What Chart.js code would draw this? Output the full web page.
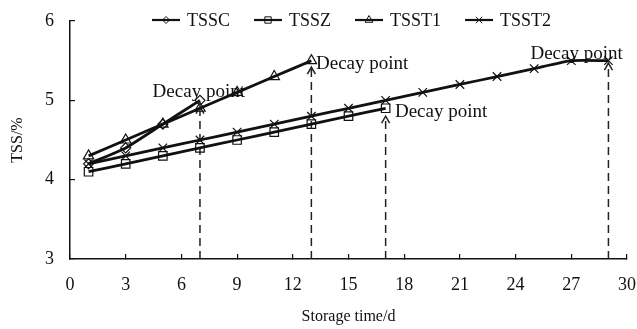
<!DOCTYPE html>
<html>
<head>
<meta charset="utf-8">
<script src="https://cdn.jsdelivr.net/npm/chart.js@4.4.0/dist/chart.umd.min.js"></script>
<style>
    html, body { margin: 0; padding: 0; background: #fff; }
    #wrap { width: 637px; height: 329px; }
</style>
</head>
<body>
<div id="wrap"><canvas id="tssChart"></canvas></div>
<script>
// TSS during storage

const seriesNames = ['TSSC', 'TSSZ', 'TSST1', 'TSST2'];
const storageDays = [1, 3, 5, 7, 9, 11, 13, 15, 17, 19, 21, 23, 25, 27, 29];
const tsscValues = [4.2, 4.4, 4.7, 5.0];
const tsszValues = [4.1, 4.2, 4.3, 4.4, 4.5, 4.6, 4.7, 4.8, 4.9];
const tsst1Values = [4.3, 4.5, 4.7, 4.9, 5.1, 5.3, 5.5];
const tsst2Values = [4.2, 4.3, 4.4, 4.5, 4.6, 4.7, 4.8, 4.9, 5.0, 5.1, 5.2, 5.3, 5.4, 5.5, 5.5];

// decay markers: day of the dashed arrow, where the arrow stops, where the label sits
const decayDays = [7, 13, 17, 29];
const decayArrowTips = [4.92, 5.42, 4.8, 5.47];
const decayLabelDays = [4.45, 13.25, 17.5, 24.8];
const decayLabelValues = [5.11, 5.46, 4.85, 5.59];
const decayLabel = 'Decay point';

const serif = '"Liberation Serif", "Times New Roman", serif';
const ink = '#111';

function toPoints(values) {
    return values.map((v, i) => ({ x: storageDays[i], y: v }));
}

const seriesStyles = [
    { values: tsscValues, pointStyle: 'rectRot', pointRadius: 5 },
    { values: tsszValues, pointStyle: 'rect', pointRadius: 6 },
    { values: tsst1Values, pointStyle: 'triangle', pointRadius: 6 },
    { values: tsst2Values, pointStyle: 'crossRot', pointRadius: 6 }
];

const datasets = seriesStyles.map((s, i) => ({
    label: seriesNames[i],
    data: toPoints(s.values),
    borderColor: ink,
    borderWidth: 2.8,
    backgroundColor: 'rgba(255,255,255,0)',
    pointStyle: s.pointStyle,
    pointRadius: s.pointRadius,
    pointBorderWidth: 1.2,
    pointBorderColor: ink,
    pointBackgroundColor: 'rgba(255,255,255,0)',
    tension: 0.15
}));

// dashed arrows under the lines
const decayArrows = {
    id: 'decayArrows',
    beforeDatasetsDraw(chart) {
        const { ctx, scales: { x, y } } = chart;
        ctx.save();
        ctx.strokeStyle = '#222';
        ctx.lineWidth = 1.5;
        decayDays.forEach((day, i) => {
            const px = x.getPixelForValue(day);
            const base = y.getPixelForValue(y.min);
            const tip = y.getPixelForValue(decayArrowTips[i]);
            ctx.setLineDash([8, 5]);
            ctx.beginPath();
            ctx.moveTo(px, base);
            ctx.lineTo(px, tip);
            ctx.stroke();
            ctx.setLineDash([]);
            ctx.beginPath();
            ctx.moveTo(px - 4, tip + 7);
            ctx.lineTo(px, tip);
            ctx.lineTo(px + 4, tip + 7);
            ctx.stroke();
        });
        ctx.restore();
    },
    afterDatasetsDraw(chart) {
        const { ctx, scales: { x, y } } = chart;
        ctx.save();
        ctx.fillStyle = ink;
        ctx.font = '19px ' + serif;
        ctx.textBaseline = 'middle';
        decayLabelDays.forEach((d, i) => {
            ctx.fillText(decayLabel, x.getPixelForValue(d), y.getPixelForValue(decayLabelValues[i]));
        });
        ctx.restore();
    }
};

// legend with line + marker, sitting over the top of the plot
const lineLegend = {
    id: 'lineLegend',
    afterDraw(chart) {
        const { ctx } = chart;
        const ly = 20;
        let cursor = 152;
        ctx.save();
        ctx.font = '18px ' + serif;
        ctx.textBaseline = 'middle';
        chart.data.datasets.forEach(ds => {
            ctx.strokeStyle = ink;
            ctx.lineWidth = 2.2;
            ctx.beginPath();
            ctx.moveTo(cursor, ly);
            ctx.lineTo(cursor + 28, ly);
            ctx.stroke();
            ctx.fillStyle = 'rgba(255,255,255,0)';
            ctx.lineWidth = 1;
            Chart.helpers.drawPoint(ctx, { pointStyle: ds.pointStyle, radius: ds.pointRadius - 1.5, borderWidth: 1 }, cursor + 14, ly);
            ctx.fillStyle = ink;
            ctx.fillText(ds.label, cursor + 35, ly + 1);
            cursor += 35 + ctx.measureText(ds.label).width + 24;
        });
        ctx.restore();
    }
};

const ctx = document.getElementById('tssChart').getContext('2d');
new Chart(ctx, {
    type: 'line',
    data: { datasets },
    options: {
        responsive: true,
        maintainAspectRatio: false,
        animation: false,
        layout: { padding: { top: 21, right: 10, left: 0, bottom: 0 } },
        plugins: {
            legend: { display: false },
            tooltip: { enabled: false }
        },
        scales: {
            x: {
                type: 'linear',
                min: 0,
                max: 30,
                afterFit: scale => {
                    scale.height = 70;
                    scale.paddingLeft = 0;
                    scale.paddingRight = 0;
                },
                ticks: { stepSize: 3, color: ink, padding: 20, font: { family: serif, size: 18 } },
                grid: { drawOnChartArea: false, tickLength: -5, color: ink, lineWidth: 1.2 },
                border: { color: ink, width: 1.5 },
                title: {
                    display: true,
                    text: 'Storage time/d',
                    color: ink,
                    font: { family: serif, size: 16 },
                    padding: { top: 0, bottom: 3 }
                }
            },
            y: {
                min: 3,
                max: 6,
                afterFit: scale => {
                    scale.width = 70;
                    scale.paddingTop = 0;
                    scale.paddingBottom = 0;
                },
                ticks: { stepSize: 1, color: ink, padding: 21, font: { family: serif, size: 18 } },
                grid: { drawOnChartArea: false, tickLength: -5, color: ink, lineWidth: 1.2 },
                border: { color: ink, width: 1.5 },
                title: {
                    display: true,
                    text: 'TSS/%',
                    color: ink,
                    font: { family: serif, size: 16 },
                    padding: { top: 8, bottom: 0 }
                }
            }
        }
    },
    plugins: [decayArrows, lineLegend]
});
</script>
</body>
</html>
